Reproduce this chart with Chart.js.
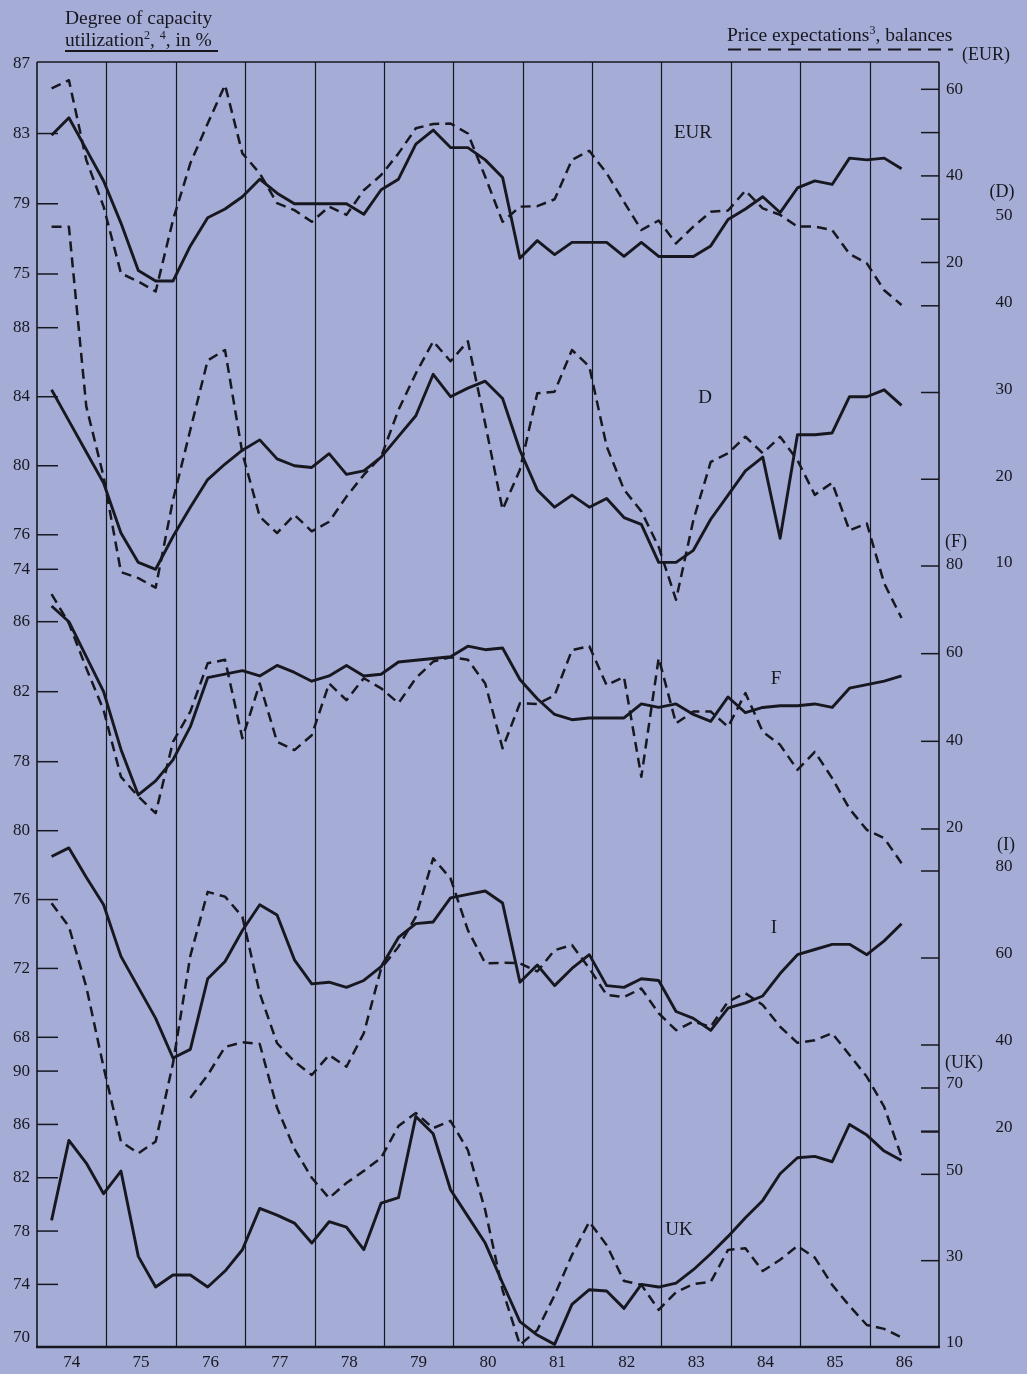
<!DOCTYPE html>
<html>
<head>
<meta charset="utf-8">
<title>Capacity utilization and price expectations</title>
<script src="https://cdn.jsdelivr.net/npm/chart.js@4.4.0/dist/chart.umd.min.js"></script>
<style>
  html, body { margin: 0; padding: 0; background: #a5acd6; }
  #wrap { width: 1027px; height: 1374px; }
</style>
</head>
<body>
<div id="wrap"><canvas id="chart" width="1027" height="1374"></canvas></div>
<script>
// quarterly survey dates, 1974 Q1 - 1986 Q2
const quarters = [];
for (let yr = 74; yr <= 86; yr++) {
  for (let q = 1; q <= 4; q++) quarters.push(yr + '/' + q);
}
quarters.length = 50;

const yearLabels = ['74', '75', '76', '77', '78', '79', '80', '81', '82', '83', '84', '85', '86'];

// degree of capacity utilization, % (left scales)
const eurCapacity = [82.9, 83.9, 82.1, 80.3, 77.9, 75.2, 74.6, 74.6, 76.6, 78.2, 78.7, 79.4, 80.4, 79.6, 79.0, 79.0, 79.0, 79.0, 78.4, 79.8, 80.4, 82.4, 83.2, 82.2, 82.2, 81.5, 80.5, 75.9, 76.9, 76.1, 76.8, 76.8, 76.8, 76.0, 76.8, 76.0, 76.0, 76.0, 76.6, 78.1, 78.7, 79.4, 78.5, 79.9, 80.3, 80.1, 81.6, 81.5, 81.6, 81.0];
const deCapacity = [84.4, 82.6, 80.8, 79.0, 76.1, 74.4, 74.0, 75.9, 77.6, 79.2, 80.1, 80.9, 81.5, 80.4, 80.0, 79.9, 80.7, 79.5, 79.7, 80.5, 81.7, 82.9, 85.3, 84.0, 84.5, 84.9, 83.9, 80.9, 78.6, 77.6, 78.3, 77.6, 78.1, 77.0, 76.6, 74.4, 74.4, 75.1, 76.9, 78.3, 79.7, 80.5, 75.8, 81.8, 81.8, 81.9, 84.0, 84.0, 84.4, 83.5];
const frCapacity = [86.9, 86.0, 84.0, 82.0, 78.7, 76.1, 76.9, 78.1, 80.0, 82.8, 83.0, 83.2, 82.9, 83.5, 83.1, 82.6, 82.9, 83.5, 82.9, 83.0, 83.7, 83.8, 83.9, 84.0, 84.6, 84.4, 84.5, 82.7, 81.6, 80.7, 80.4, 80.5, 80.5, 80.5, 81.3, 81.1, 81.3, 80.7, 80.3, 81.7, 80.8, 81.1, 81.2, 81.2, 81.3, 81.1, 82.2, 82.4, 82.6, 82.9];
const itCapacity = [78.5, 79.0, 77.3, 75.7, 72.7, 70.9, 69.1, 66.8, 67.3, 71.4, 72.4, 74.2, 75.7, 75.1, 72.5, 71.1, 71.2, 70.9, 71.3, 72.1, 73.8, 74.6, 74.7, 76.1, 76.3, 76.5, 75.8, 71.2, 72.2, 71.0, 72.0, 72.8, 71.0, 70.9, 71.4, 71.3, 69.5, 69.1, 68.4, 69.7, 70.0, 70.4, 71.7, 72.8, 73.1, 73.4, 73.4, 72.8, 73.6, 74.6];
const ukCapacity = [78.8, 84.8, 83.1, 80.8, 82.5, 76.1, 73.8, 74.7, 74.7, 73.8, 75.0, 76.6, 79.7, 79.2, 78.6, 77.1, 78.7, 78.3, 76.6, 80.1, 80.5, 86.6, 85.3, 81.1, 79.1, 77.1, 74.1, 71.2, 70.2, 69.5, 72.5, 73.6, 73.5, 72.2, 74.0, 73.8, 74.1, 75.1, 76.3, 77.6, 79.0, 80.3, 82.3, 83.5, 83.6, 83.2, 86.0, 85.2, 84.0, 83.3];

// price expectations, balances (right scales)
const eurPrices = [60.2, 62.1, 43.7, 32.9, 17.5, 15.6, 13.3, 29.8, 42.9, 52.1, 61.0, 45.2, 40.6, 33.7, 32.1, 29.4, 32.9, 31.0, 36.7, 40.2, 45.2, 51.0, 52.0, 52.1, 49.8, 39.8, 29.4, 32.9, 33.0, 34.6, 43.7, 45.8, 40.6, 34.0, 27.5, 29.7, 24.4, 28.3, 31.7, 32.0, 36.6, 32.5, 31.0, 28.3, 28.3, 27.5, 22.0, 19.8, 13.6, 10.2];
const dePrices = [49.1, 49.1, 28.4, 20.3, 9.3, 8.6, 7.5, 17.6, 25.7, 33.7, 34.9, 23.0, 15.7, 13.8, 15.9, 14.0, 15.1, 18.0, 20.5, 22.6, 28.0, 32.2, 35.9, 33.6, 35.9, 26.4, 16.5, 21.1, 29.9, 30.1, 34.9, 33.0, 23.8, 18.8, 16.3, 12.2, 6.1, 15.3, 22.0, 23.0, 24.9, 23.0, 24.9, 22.2, 18.2, 19.6, 14.1, 14.9, 8.0, 4.0];
const frPrices = [73.6, 66.9, 56.7, 47.1, 31.9, 27.4, 23.6, 39.9, 46.8, 57.8, 58.6, 40.7, 53.2, 39.9, 38.0, 41.4, 53.2, 49.4, 54.4, 52.1, 48.7, 54.4, 58.2, 59.2, 58.6, 53.2, 38.4, 48.7, 48.5, 50.5, 60.8, 61.7, 52.8, 54.7, 31.9, 59.0, 44.1, 46.8, 46.8, 43.3, 51.0, 42.2, 39.2, 33.5, 37.6, 31.6, 24.6, 19.8, 17.9, 12.2];
const itPrices = [72.6, 67.2, 53.4, 34.9, 17.8, 15.1, 17.8, 35.8, 60.5, 75.2, 74.1, 69.5, 51.9, 40.4, 36.2, 33.1, 37.7, 35.0, 42.7, 57.6, 62.6, 69.5, 82.9, 78.3, 66.4, 58.8, 58.9, 58.8, 56.9, 61.8, 63.0, 57.6, 51.5, 51.0, 53.0, 47.3, 43.4, 45.4, 44.2, 50.0, 51.9, 49.2, 44.2, 40.5, 41.1, 42.7, 37.7, 32.7, 25.8, 14.3];
const ukPrices = [null, null, null, null, null, null, null, null, 67.7, 73.0, 79.5, 80.6, 80.2, 65.4, 55.9, 49.2, 44.5, 48.0, 50.8, 53.8, 61.2, 64.2, 60.7, 62.4, 55.6, 41.7, 23.2, 10.5, 13.9, 22.0, 31.3, 39.0, 33.6, 25.3, 24.4, 18.6, 22.7, 24.6, 25.1, 32.5, 32.9, 27.6, 30.2, 33.4, 30.7, 24.4, 19.5, 15.1, 14.2, 12.2];

// tick labels
const eurCapTicks = [87, 83, 79, 75];
const deCapTicks = [88, 84, 80, 76, 74];
const frCapTicks = [86, 82, 78];
const itCapTicks = [80, 76, 72, 68];
const ukCapTicks = [90, 86, 82, 78, 74, 70];
const eurPriceTicks = [60, 40, 20];
const dePriceTicks = [50, 40, 30, 20, 10];
const frPriceTicks = [80, 60, 40, 20];
const itPriceTicks = [80, 60, 40, 20];
const ukPriceTicks = [70, 50, 30, 10];

const INK = '#17171f';
const PAPER = '#a5acd6';
const SERIF = '"Liberation Serif", "DejaVu Serif", serif';
const AREA = { left: 37, top: 62, right: 939, bottom: 1347 };
const SURVEY_OFFSET = 0.21;

const quarterX = quarters.map(s => {
  const [yr, q] = s.split('/').map(Number);
  return 1900 + yr + (q - 1) / 4 + SURVEY_OFFSET;
});

// each panel scale is fixed by two (value, pixel) anchors
function fitAxis(v1, p1, v2, p2) {
  const s = (p2 - p1) / (v1 - v2);
  return { min: v1 - (AREA.bottom - p1) / s, max: v1 + (p1 - AREA.top) / s };
}

const leftAxes = [
  { id: 'yEL', ticks: eurCapTicks, fit: [87, 63.3, 75, 274] },
  { id: 'yDL', ticks: deCapTicks, fit: [88, 327.7, 74, 569.3] },
  { id: 'yFL', ticks: frCapTicks, fit: [86, 621.7, 78, 761.7] },
  { id: 'yIL', ticks: itCapTicks, fit: [80, 830.7, 68, 1037.3] },
  { id: 'yUL', ticks: ukCapTicks, fit: [90, 1071.1, 70, 1337.7] }
];
const rightAxes = [
  { id: 'yER', ticks: eurPriceTicks, marks: [60, 50, 40, 30, 20, 10], col: 1, dy: 0, fit: [60, 89.3, 10, 305.8], unit: '(EUR)', unitAt: [962, 55] },
  { id: 'yDR', ticks: dePriceTicks, marks: [30, 20], col: 2, dy: -3, fit: [50, 219, 10, 566], unit: '(D)', unitAt: [1002, 192] },
  { id: 'yFR', ticks: frPriceTicks, marks: frPriceTicks, col: 1, dy: -1, fit: [80, 566, 20, 829], unit: '(F)', unitAt: [945, 542] },
  { id: 'yIR', ticks: itPriceTicks, marks: itPriceTicks, col: 2, dy: -4, fit: [80, 871, 20, 1132], unit: '(I)', unitAt: [1006, 845] },
  { id: 'yUR', ticks: ukPriceTicks, marks: [70, 60, 50, 30], col: 1, dy: -4, fit: [70, 1088, 10, 1347], unit: '(UK)', unitAt: [945, 1063] }
];

const scales = { x: { type: 'linear', display: false, bounds: 'data', min: 1974, max: 1987 } };
for (const a of leftAxes.concat(rightAxes)) {
  scales[a.id] = { type: 'linear', display: false, bounds: 'data', ...fitAxis(...a.fit) };
}

const series = [
  { label: 'EUR capacity', values: eurCapacity, axis: 'yEL' },
  { label: 'EUR prices', values: eurPrices, axis: 'yER', dashed: true },
  { label: 'D capacity', values: deCapacity, axis: 'yDL' },
  { label: 'D prices', values: dePrices, axis: 'yDR', dashed: true },
  { label: 'F capacity', values: frCapacity, axis: 'yFL' },
  { label: 'F prices', values: frPrices, axis: 'yFR', dashed: true },
  { label: 'I capacity', values: itCapacity, axis: 'yIL' },
  { label: 'I prices', values: itPrices, axis: 'yIR', dashed: true },
  { label: 'UK capacity', values: ukCapacity, axis: 'yUL' },
  { label: 'UK prices', values: ukPrices, axis: 'yUR', dashed: true }
];

const datasets = series.map(s => ({
  label: s.label,
  data: s.values.map((v, i) => ({ x: quarterX[i], y: v })),
  xAxisID: 'x',
  yAxisID: s.axis,
  borderColor: INK,
  borderWidth: s.dashed ? 2.5 : 2.9,
  borderDash: s.dashed ? [10, 6] : [],
  borderJoinStyle: 'round',
  pointRadius: 0,
  tension: 0,
  fill: false,
  spanGaps: false,
  clip: false
}));

const panelNames = [
  { text: 'EUR', x: 693, y: 133 },
  { text: 'D', x: 705, y: 398 },
  { text: 'F', x: 776, y: 679 },
  { text: 'I', x: 774, y: 928 },
  { text: 'UK', x: 679, y: 1230 }
];

function seg(ctx, x1, y1, x2, y2) {
  ctx.beginPath();
  ctx.moveTo(x1, y1);
  ctx.lineTo(x2, y2);
  ctx.stroke();
}

// text with superscript parts: [text, isSup]
function runs(ctx, x, y, parts, size) {
  for (const [txt, sup] of parts) {
    ctx.font = (sup ? Math.round(size * 0.62) : size) + 'px ' + SERIF;
    ctx.fillText(txt, x, sup ? y - size * 0.38 : y);
    x += ctx.measureText(txt).width;
  }
  return x;
}

const paper = {
  id: 'paper',
  beforeDraw(chart) {
    const { ctx, width, height } = chart;
    ctx.save();
    ctx.fillStyle = PAPER;
    ctx.fillRect(0, 0, width, height);
    ctx.restore();
  },
  beforeDatasetsDraw(chart) {
    const { ctx, chartArea: a, scales: sc } = chart;
    ctx.save();
    ctx.strokeStyle = INK;

    ctx.lineWidth = 1.2;
    for (let yr = 1975; yr <= 1986; yr++) {
      const x = Math.round(sc.x.getPixelForValue(yr)) + 0.5;
      seg(ctx, x, a.top, x, a.bottom);
    }

    ctx.lineWidth = 1.6;
    seg(ctx, a.left, a.top, a.right, a.top);
    seg(ctx, a.left, a.top, a.left, a.bottom);
    seg(ctx, a.right, a.top, a.right, a.bottom);
    ctx.lineWidth = 2.6;
    seg(ctx, a.left - 1, a.bottom, a.right + 1, a.bottom);

    ctx.lineWidth = 1.5;
    for (const ax of leftAxes) {
      for (const v of ax.ticks) {
        const y = sc[ax.id].getPixelForValue(v);
        if (y - a.top < 4 || a.bottom - y < 12) continue;
        seg(ctx, a.left, y, a.left + 21, y);
      }
    }
    for (const ax of rightAxes) {
      for (const v of ax.marks) {
        const y = sc[ax.id].getPixelForValue(v);
        seg(ctx, a.right - 18, y, a.right, y);
      }
    }
    ctx.restore();
  },
  afterDraw(chart) {
    const { ctx, chartArea: a, scales: sc } = chart;
    ctx.save();
    ctx.fillStyle = INK;
    ctx.strokeStyle = INK;
    ctx.textBaseline = 'middle';

    ctx.font = '17px ' + SERIF;
    ctx.textAlign = 'right';
    for (const ax of leftAxes) {
      for (const v of ax.ticks) ctx.fillText(String(v), 30, sc[ax.id].getPixelForValue(v));
    }

    for (const ax of rightAxes) {
      ctx.font = '17px ' + SERIF;
      ctx.textAlign = ax.col === 1 ? 'left' : 'center';
      const x = ax.col === 1 ? 946 : 1004;
      for (const v of ax.ticks) ctx.fillText(String(v), x, sc[ax.id].getPixelForValue(v) + ax.dy);
      ctx.font = '18px ' + SERIF;
      ctx.textAlign = ax.col === 1 ? 'left' : 'center';
      ctx.fillText(ax.unit, ax.unitAt[0], ax.unitAt[1]);
    }

    ctx.font = '17px ' + SERIF;
    ctx.textAlign = 'center';
    yearLabels.forEach((lab, i) => {
      ctx.fillText(lab, sc.x.getPixelForValue(1974 + i + 0.5), a.bottom + 16);
    });

    ctx.font = '19px ' + SERIF;
    for (const p of panelNames) ctx.fillText(p.text, p.x, p.y);

    // axis titles
    ctx.textAlign = 'left';
    ctx.textBaseline = 'alphabetic';
    ctx.font = '19.5px ' + SERIF;
    ctx.fillText('Degree of capacity', 65, 24);
    const endL = runs(ctx, 65, 46, [['utilization', 0], ['2', 1], [', ', 0], ['4', 1], [', in %', 0]], 19.5);
    ctx.lineWidth = 2;
    seg(ctx, 65, 51, Math.max(endL, 218), 51);

    runs(ctx, 727, 41, [['Price expectations', 0], ['3', 1], [', balances', 0]], 19.5);
    ctx.lineWidth = 2.2;
    ctx.setLineDash([13, 7]);
    seg(ctx, 728, 49.5, 953, 49.5);
    ctx.setLineDash([]);
    ctx.restore();
  }
};

new Chart(document.getElementById('chart'), {
  type: 'line',
  data: { datasets },
  options: {
    responsive: false,
    animation: false,
    events: [],
    layout: { padding: { left: AREA.left, top: AREA.top, right: 1027 - AREA.right, bottom: 1374 - AREA.bottom } },
    scales,
    plugins: { legend: { display: false }, tooltip: { enabled: false } }
  },
  plugins: [paper]
});
</script>
</body>
</html>
